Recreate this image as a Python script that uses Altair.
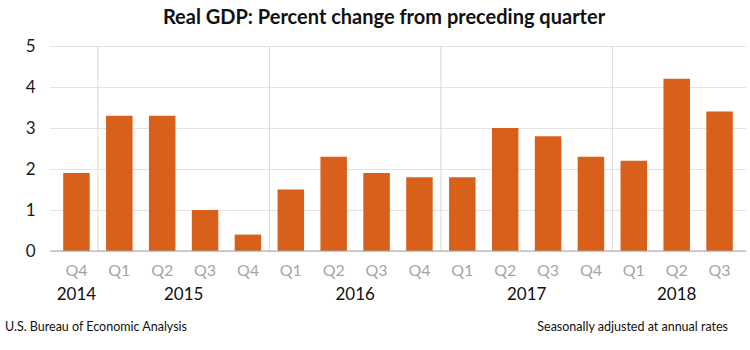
import altair as alt
import pandas as pd

years = ["2014", "2015", "2015", "2015", "2015", "2016", "2016", "2016", "2016",
         "2017", "2017", "2017", "2017", "2018", "2018", "2018"]
quarters = ["Q4", "Q1", "Q2", "Q3", "Q4", "Q1", "Q2", "Q3", "Q4",
            "Q1", "Q2", "Q3", "Q4", "Q1", "Q2", "Q3"]
values = [1.9, 3.3, 3.3, 1.0, 0.4, 1.5, 2.3, 1.9, 1.8,
          1.8, 3.0, 2.8, 2.3, 2.2, 4.2, 3.4]
y_ticks = [0, 1, 2, 3, 4, 5]

df = pd.DataFrame({"idx": list(range(len(values))), "year": years,
                   "quarter": quarters, "value": values})

FONT = "Lato"
W, H = 696, 205

xscale = alt.Scale(domain=[-0.5, len(values) - 0.5], nice=False, zero=False)
yscale = alt.Scale(domain=[0, 5], nice=False)

base = alt.Chart(df)
one = base.transform_filter("datum.idx == 0")

bars = base.mark_bar(size=26.5, color="#D9601A").encode(
    x=alt.X("idx:Q", scale=xscale, axis=None),
    y=alt.Y("value:Q", scale=yscale,
            axis=alt.Axis(values=y_ticks, title=None, domain=False, ticks=False,
                          grid=True, gridColor="#e3e3e3", gridWidth=1,
                          labelFont=FONT, labelFontSize=17, labelColor="#1a1a1a",
                          labelPadding=15)),
)

separators = base.transform_aggregate(
    first="min(idx)", groupby=["year"]
).transform_calculate(
    sep="datum.first - 0.5"
).transform_filter("datum.sep > 0").mark_rule(color="#d9d9d9", strokeWidth=1).encode(
    x=alt.X("sep:Q", scale=xscale, axis=None),
    y=alt.value(0),
    y2=alt.value(H),
)

zero_line = one.mark_rule(color="#a6a6a6", strokeWidth=1).encode(
    y=alt.datum(0),
    x=alt.value(0), x2=alt.value(W),
)

q_labels = base.mark_text(font=FONT, fontSize=16, color="#a6a6a6", baseline="middle").encode(
    x=alt.X("idx:Q", scale=xscale, axis=None),
    y=alt.value(H + 20),
    text="quarter:N",
)

year_labels = base.transform_aggregate(
    mid="mean(idx)", groupby=["year"]
).mark_text(font=FONT, fontSize=17, color="#111", baseline="middle").encode(
    x=alt.X("mid:Q", scale=xscale, axis=None),
    y=alt.value(H + 44),
    text="year:N",
)

title = one.mark_text(
    font=FONT, fontSize=20, fontWeight="bold", color="#111", baseline="middle", align="center",
    text="Real GDP:  Percent change from preceding quarter"
).encode(x=alt.value(334), y=alt.value(-28))

foot_left = one.mark_text(
    font=FONT, fontSize=12.5, color="#111", baseline="middle", align="left",
    text="U.S. Bureau of Economic Analysis"
).encode(x=alt.value(-45), y=alt.value(H + 76))

foot_right = one.mark_text(
    font=FONT, fontSize=12.5, color="#111", baseline="middle", align="right",
    text="Seasonally adjusted at annual rates"
).encode(x=alt.value(678), y=alt.value(H + 76))

chart = alt.layer(
    separators, bars, zero_line, q_labels, year_labels, title, foot_left, foot_right
).properties(
    width=W, height=H,
    autosize="none",
    padding={"left": 50, "top": 46, "right": 4, "bottom": 99},
).configure_view(strokeWidth=0)

chart.save("out.html", embed_options={"renderer": "svg", "actions": False})
